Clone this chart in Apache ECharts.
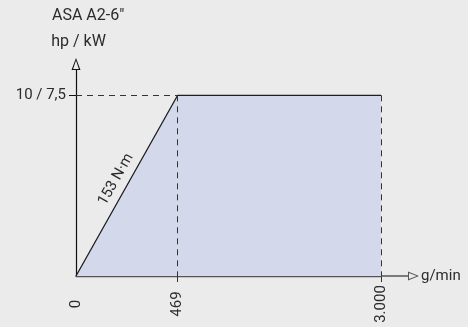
<!DOCTYPE html>
<html>
<head>
<meta charset="utf-8">
<script src="https://cdn.jsdelivr.net/npm/echarts@6/dist/echarts.min.js"></script>
<style>
  html, body { margin: 0; padding: 0; background: #ebebeb; }
  #chart { width: 468px; height: 327px; }
</style>
</head>
<body>
<div id="chart"></div>
<script>
// x slots: the drawing is schematic, the empty slot keeps 469 -> 3.000 wider
const speedCategories = ['0', '469', '', '3.000'];
const speedPoints = ['0', '469', '3.000'];
const powerValues = [0, 10, 10];
const powerTicks = [10];
const powerTickLabels = ['10 / 7,5'];
const torqueText = '153 N·m';
const chartTitle = 'ASA A2-6"';
const yName = 'hp / kW';
const xName = 'g/min';

const FONT = 'Roboto, "Liberation Sans", sans-serif';
const TEXT = '#2b2b2b';

// open arrow heads (outer triangle minus inner one)
const yArrow = 'path://M4.5,0 L9,12 L0,12 Z M4.5,2.6 L1.6,11 L7.4,11 Z';
const xArrow = 'path://M4.5,0 L9,11 L0,11 Z M4.5,2.4 L1.6,10 L7.4,10 Z M3.8,11 L5.2,11 L5.2,38 L3.8,38 Z';

const seriesData = speedPoints.map((s, i) => [s, powerValues[i]]);
const dash = { color: '#333', width: 1, type: [6, 5] };

const option = {
  backgroundColor: '#ebebeb',
  animation: false,
  textStyle: { fontFamily: FONT },
  title: {
    text: chartTitle,
    left: 47,
    top: 3,
    textStyle: { fontFamily: FONT, fontSize: 16, fontWeight: 'normal', color: TEXT }
  },
  grid: { left: 76, right: 87, top: 70, bottom: 51 },
  xAxis: {
    type: 'category',
    data: speedCategories,
    boundaryGap: false,
    name: xName,
    nameLocation: 'end',
    nameGap: 40,
    nameTextStyle: { fontFamily: FONT, fontSize: 15, color: TEXT, verticalAlign: 'middle' },
    axisLine: {
      lineStyle: { color: '#555', width: 1.4 },
      symbol: ['none', xArrow],
      symbolSize: [9, 38],
      symbolOffset: [0, 19]
    },
    axisTick: {
      show: true,
      length: 9,
      interval: (i, v) => v === '469' || v === '3.000',
      lineStyle: { color: '#333', width: 1, type: [6, 5] }
    },
    axisLabel: {
      interval: 0,
      rotate: 90,
      align: 'center',
      verticalAlign: 'middle',
      margin: 28,
      fontFamily: FONT,
      fontSize: 15,
      color: TEXT
    },
    splitLine: { show: false }
  },
  yAxis: {
    type: 'value',
    min: 0,
    max: 11.4,
    interval: 10,
    name: yName,
    nameLocation: 'end',
    nameGap: 20,
    nameTextStyle: { fontFamily: FONT, fontSize: 16, color: TEXT, padding: [0, 0, 0, 5] },
    axisLine: {
      show: true,
      lineStyle: { color: '#111', width: 1.2 },
      symbol: ['none', yArrow],
      symbolSize: [9, 12],
      symbolOffset: [0, 6]
    },
    axisTick: {
      show: true,
      length: 7,
      customValues: powerTicks,
      lineStyle: { color: '#111', width: 1 }
    },
    axisLabel: {
      customValues: powerTicks,
      margin: 10,
      fontFamily: FONT,
      fontSize: 15,
      color: TEXT,
      formatter: v => {
        const k = powerTicks.indexOf(v);
        return k >= 0 ? powerTickLabels[k] : '';
      }
    },
    splitLine: { show: false }
  },
  series: [
    {
      type: 'line',
      data: seriesData,
      symbol: 'none',
      silent: true,
      lineStyle: { color: '#1e1e1e', width: 1.3 },
      areaStyle: { color: '#d3d9ea', opacity: 1 },
      markLine: {
        silent: true,
        symbol: ['none', 'none'],
        label: { show: false },
        data: [
          [{ coord: [speedPoints[0], powerValues[1]], lineStyle: dash }, { coord: [speedPoints[1], powerValues[1]] }],
          [{ coord: [speedPoints[1], powerValues[1]], lineStyle: dash }, { coord: [speedPoints[1], 0] }],
          [{ coord: [speedPoints[2], powerValues[2]], lineStyle: dash }, { coord: [speedPoints[2], 0] }],
          [{
            coord: [speedPoints[0], powerValues[0]],
            lineStyle: { color: 'transparent', width: 0 },
            label: {
              show: true,
              position: 'middle',
              distance: 5,
              formatter: torqueText,
              fontFamily: FONT,
              fontSize: 15,
              color: TEXT
            }
          }, { coord: [speedPoints[1], powerValues[1]] }]
        ]
      }
    }
  ]
};

const chart = echarts.init(document.getElementById('chart'), null, { renderer: 'canvas' });
chart.setOption(option);
</script>
</body>
</html>
